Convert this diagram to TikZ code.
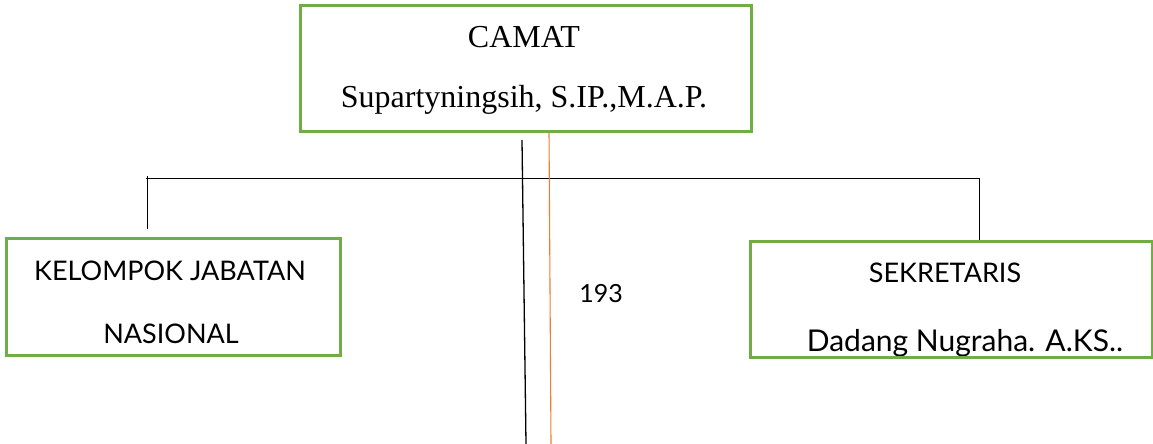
\documentclass[tikz,border=0pt]{standalone}
\usepackage{fontspec}
\setmainfont{Liberation Serif}
\newfontfamily\boxsans{Lato}
\definecolor{boxgreen}{RGB}{112,173,71}
\definecolor{lineorange}{RGB}{237,125,49}
\begin{document}
\begin{tikzpicture}[x=1pt,y=-1pt,
  orgbox/.style={draw=boxgreen,line width=2.6pt,fill=white},
  conn/.style={draw=black,line width=1pt},
  lbl/.style={inner sep=0pt,anchor=base}]
\useasboundingbox (0,0) rectangle (1153,444);
% connectors
\coordinate (hl) at (146,178);
\coordinate (hr) at (980,178);
\draw[conn] (hl) -- (hr);
\coordinate (lt) at (147,176);
\coordinate (lb) at (147,229);
\draw[conn] (lt) -- (lb);
\coordinate (rt) at (979,178);
\coordinate (rb) at (979,240);
\draw[conn] (rt) -- (rb);
\coordinate (bt) at (522,140);
\coordinate (bb) at (526,444);
\draw[conn,line width=1.3pt] (bt) -- (bb);
\coordinate (ot) at (549,131);
\coordinate (ob) at (551,444);
\draw[draw=lineorange,line width=1.1pt] (ot) -- (ob);
% boxes
\node[orgbox,minimum width=451pt,minimum height=126pt,anchor=north west] (camat) at (299,4) {};
\node[lbl,font=\fontsize{32}{36}\selectfont] (camatt) at (524,48) {CAMAT};
\node[lbl,font=\fontsize{32}{36}\selectfont] (camatn) at (524,107) {Supartyningsih, S.IP.,M.A.P.};
\node[orgbox,minimum width=334pt,minimum height=117pt,anchor=north west] (kel) at (5,237) {};
\node[lbl,font=\boxsans\fontsize{27}{30}\selectfont] (kelt) at (170,280) {KELOMPOK JABATAN};
\node[lbl,font=\boxsans\fontsize{27}{30}\selectfont] (keln) at (171,343) {NASIONAL};
\node[orgbox,minimum width=402pt,minimum height=116pt,anchor=north west] (sek) at (749,240) {};
\node[lbl,font=\boxsans\fontsize{27}{30}\selectfont] (sekt) at (945,282) {SEKRETARIS};
\begin{scope}
\clip (749,240) rectangle (1151,355);
\node[lbl,font=\boxsans\fontsize{30}{34}\selectfont] (sekn) at (965,351) {Dadang Nugraha. A.KS..};
\end{scope}
\node[lbl,font=\boxsans\fontsize{25}{28}\selectfont] (num) at (601,302) {193};
\end{tikzpicture}
\end{document}
